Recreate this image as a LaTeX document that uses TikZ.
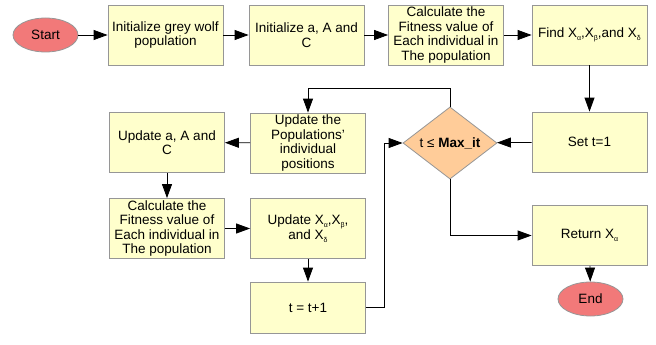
\documentclass[tikz,border=0pt]{standalone}
\usepackage{fontspec}
\setmainfont{Liberation Sans}
\usetikzlibrary{shapes.geometric, arrows.meta}

\definecolor{boxfill}{RGB}{255,255,204}
\definecolor{boxline}{RGB}{150,150,150}
\definecolor{termfill}{RGB}{242,121,121}
\definecolor{condfill}{RGB}{255,204,153}

\newcommand{\gsub}[1]{\raisebox{-0.45ex}{\fontsize{7}{7}\selectfont #1}}

\tikzset{
    stepbox/.style={draw=boxline, fill=boxfill, line width=0.8pt, minimum width=115pt, minimum height=60pt, inner sep=0pt, align=center},
    term/.style={ellipse, draw=boxline, fill=termfill, line width=0.8pt, minimum width=65pt, minimum height=34pt, inner sep=0pt},
    test/.style={diamond, draw=boxline, fill=condfill, line width=0.8pt, minimum width=94pt, minimum height=72pt, inner sep=0pt},
    flow/.style={line width=0.8pt, -{Triangle[length=14pt, width=10pt]}}
}

\begin{document}
\begin{tikzpicture}[x=1pt, y=-1pt, font=\fontsize{13.5}{14.5}\selectfont]

    \useasboundingbox (0,0) rectangle (656,345);

    \node[term] (start) at (45.5,35) {Start};
    \node[stepbox] (init) at (165.5,35) {Initialize grey wolf\\population};
    \node[stepbox] (initA) at (306.5,35) {Initialize a, A and\\C};
    \node[stepbox] (fit) at (446,35) {Calculate the\\Fitness value of\\Each individual in\\The population};
    \node[stepbox] (find) at (589.5,35) {Find X\gsub{α},X\gsub{β},and X\gsub{δ}};

    \node[stepbox] (set) at (589.5,142) {Set t=1};
    \node[test] (cond) at (450,143) {t ≤ \textbf{Max\_it}};
    \node[stepbox] (upd) at (308,143) {Update the\\Populations'\\individual\\positions};
    \node[stepbox] (updA) at (167,142.5) {Update a, A and\\C};

    \node[stepbox] (fit2) at (167,228.5) {Calculate the\\Fitness value of\\Each individual in\\The population};
    \node[stepbox] (updX) at (308,228.5) {Update X\gsub{α},X\gsub{β},\\and X\gsub{δ}};
    \node[stepbox, minimum height=51pt] (inc) at (308,307.5) {t = t+1};

    \node[stepbox] (ret) at (589.5,235.5) {Return X\gsub{α}};
    \node[term] (stop) at (590.5,299) {End};

    \draw[flow] (start) -- (init);
    \draw[flow] (init) -- (initA);
    \draw[flow] (initA) -- (fit);
    \draw[flow] (fit) -- (find);
    \draw[flow] (find) -- (set);
    \draw[flow] (set) -- (cond);

    \draw[flow] (cond.north) -- ++(0,-18) -| (upd.north);
    \draw[flow] (upd) -- (updA);
    \draw[flow] (updA) -- (fit2);
    \draw[flow] (fit2) -- (updX);
    \draw[flow] (updX) -- (inc);
    \draw[flow] (inc.east) -- ++(18,0) |- (cond.west);

    \draw[flow] (cond.south) |- (ret.west);
    \draw[flow] (ret) -- (stop);

\end{tikzpicture}
\end{document}
